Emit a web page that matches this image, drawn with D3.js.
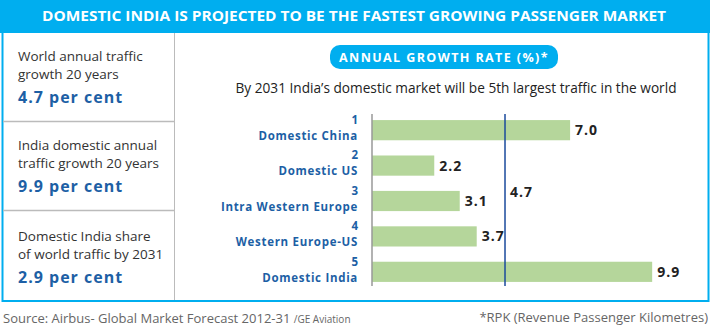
<!DOCTYPE html>
<html lang="en">
<head>
    <meta charset="UTF-8">
    <title>Domestic India growth</title>
    <script src="https://d3js.org/d3.v7.min.js"></script>
    <style>
        body { margin: 0; background: #fff; }
        svg text { font-family: "Open Sans", sans-serif; }
    </style>
</head>
<body>
    <div id="chart"></div>

    <script>
        // Chart data
        const ranks = ["1", "2", "3", "4", "5"];
        const categories = ["Domestic China", "Domestic US", "Intra Western Europe", "Western Europe-US", "Domestic India"];
        const growthRates = [7.0, 2.2, 3.1, 3.7, 9.9];
        const worldAverage = 4.7;

        const statLines = [
            ["World annual traffic", "growth 20 years"],
            ["India domestic annual", "traffic growth 20 years"],
            ["Domestic India share", "of world traffic by 2031"]
        ];
        const statValues = ["4.7 per cent", "9.9 per cent", "2.9 per cent"];

        const width = 710, height = 329;
        const blue = "#00aeef";

        const svg = d3.select("#chart")
            .append("svg")
            .attr("width", width)
            .attr("height", height);

        // header band
        svg.append("rect")
            .attr("x", 0).attr("y", 0)
            .attr("width", width).attr("height", 33)
            .attr("fill", blue);

        svg.append("text")
            .attr("x", 354).attr("y", 21)
            .attr("text-anchor", "middle")
            .attr("fill", "#fff")
            .attr("font-weight", "bold")
            .attr("font-size", 13.5)
            .attr("textLength", 624)
            .attr("lengthAdjust", "spacingAndGlyphs")
            .text("DOMESTIC INDIA IS PROJECTED TO BE THE FASTEST GROWING PASSENGER MARKET");

        // outer frame
        svg.append("rect")
            .attr("x", 2.5).attr("y", 30)
            .attr("width", 706).attr("height", 271)
            .attr("fill", "none")
            .attr("stroke", blue)
            .attr("stroke-width", 2);

        // left panel dividers
        svg.append("line")
            .attr("x1", 174.5).attr("x2", 174.5)
            .attr("y1", 33).attr("y2", 300)
            .attr("stroke", "#bbb");
        [121, 210].forEach(y => {
            svg.append("line")
                .attr("x1", 3).attr("x2", 174)
                .attr("y1", y + 0.5).attr("y2", y + 0.5)
                .attr("stroke", "#bbb")
                .attr("stroke-width", 1.5);
        });

        // left panel stats
        const statTop = [56, 145, 236];
        statLines.forEach((lines, i) => {
            lines.forEach((t, j) => {
                svg.append("text")
                    .attr("x", 18)
                    .attr("y", statTop[i] + j * 18 + 5)
                    .attr("fill", "#333")
                    .attr("font-size", 13.5)
                    .text(t);
            });
            svg.append("text")
                .attr("x", 18)
                .attr("y", statTop[i] + 41 + 6)
                .attr("fill", "#1d5fa5")
                .attr("font-weight", "bold")
                .attr("font-size", 16)
                .attr("letter-spacing", 1)
                .text(statValues[i]);
        });

        // pill heading
        svg.append("rect")
            .attr("x", 330).attr("y", 45)
            .attr("width", 228).attr("height", 24)
            .attr("rx", 10)
            .attr("fill", blue);
        svg.append("text")
            .attr("x", 444).attr("y", 61.5)
            .attr("text-anchor", "middle")
            .attr("fill", "#fff")
            .attr("font-weight", "bold")
            .attr("font-size", 12.5)
            .attr("letter-spacing", 1.4)
            .text("ANNUAL GROWTH RATE  (%)*");

        svg.append("text")
            .attr("x", 456).attr("y", 93)
            .attr("text-anchor", "middle")
            .attr("fill", "#222")
            .attr("font-size", 14)
            .attr("textLength", 441)
            .attr("lengthAdjust", "spacingAndGlyphs")
            .text("By 2031 India\u2019s domestic market will be 5th largest traffic in the world");

        // bar chart
        const x = d3.scaleLinear()
            .domain([0, 10])
            .range([372, 655]);

        const y = d3.scaleBand()
            .domain(categories)
            .range([113, 289])
            .paddingInner(0.43)
            .paddingOuter(0.2);

        svg.selectAll(".bar")
            .data(categories)
            .enter()
            .append("rect")
            .attr("class", "bar")
            .attr("x", x(0))
            .attr("y", d => y(d))
            .attr("width", (d, i) => x(growthRates[i]) - x(0))
            .attr("height", y.bandwidth())
            .attr("fill", "#b5d69b");

        // axis line
        svg.append("line")
            .attr("x1", x(0)).attr("x2", x(0))
            .attr("y1", 114).attr("y2", 286)
            .attr("stroke", "#999")
            .attr("stroke-width", 1.5);

        // world average line
        svg.append("line")
            .attr("x1", x(worldAverage)).attr("x2", x(worldAverage))
            .attr("y1", 114).attr("y2", 286)
            .attr("stroke", "#1a4a9c")
            .attr("stroke-width", 1.5);
        svg.append("text")
            .attr("x", x(worldAverage) + 5)
            .attr("y", 197)
            .attr("fill", "#222")
            .attr("font-weight", "bold")
            .attr("font-size", 14)
            .attr("letter-spacing", 1)
            .text(d3.format(".1f")(worldAverage));

        // value labels
        svg.selectAll(".value")
            .data(categories)
            .enter()
            .append("text")
            .attr("class", "value")
            .attr("x", (d, i) => x(growthRates[i]) + 5)
            .attr("y", d => y(d) + y.bandwidth() / 2 + 5)
            .attr("fill", "#222")
            .attr("font-weight", "bold")
            .attr("font-size", 14)
            .attr("letter-spacing", 1)
            .text((d, i) => d3.format(".1f")(growthRates[i]));

        // category labels
        const labels = svg.selectAll(".cat")
            .data(categories)
            .enter()
            .append("g")
            .attr("class", "cat");
        labels.append("text")
            .attr("x", 358)
            .attr("y", d => y(d) + 4)
            .attr("text-anchor", "end")
            .attr("fill", "#1d5fa5")
            .attr("font-weight", "bold")
            .attr("font-size", 11.5)
            .text((d, i) => ranks[i]);
        labels.append("text")
            .attr("x", 358)
            .attr("y", d => y(d) + 20)
            .attr("text-anchor", "end")
            .attr("fill", "#1d5fa5")
            .attr("font-weight", "bold")
            .attr("font-size", 11.5)
            .attr("letter-spacing", 0.7)
            .text(d => d);

        // footer
        svg.append("text")
            .attr("x", 3).attr("y", 323)
            .attr("fill", "#666")
            .attr("font-size", 13)
            .text("Source: Airbus- Global Market Forecast 2012-31 ")
            .append("tspan")
            .attr("font-size", 10)
            .text("/GE Aviation");
        svg.append("text")
            .attr("x", 708).attr("y", 322)
            .attr("text-anchor", "end")
            .attr("fill", "#666")
            .attr("font-size", 13)
            .text("*RPK (Revenue Passenger Kilometres)");
    </script>
</body>
</html>
